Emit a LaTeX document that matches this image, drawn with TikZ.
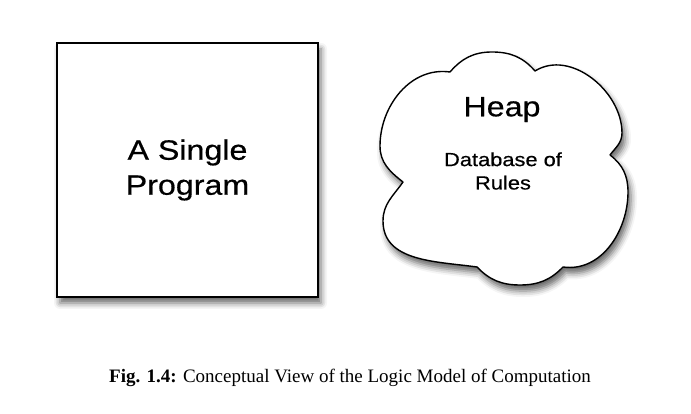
\documentclass[tikz,border=0pt]{standalone}
\usepackage{fontspec}
\setmainfont{Liberation Serif}
\newfontfamily\labelfont[FakeStretch=1.15, FakeBold=0.5]{Liberation Sans}
\usetikzlibrary{positioning, shadows.blur}

\begin{document}
\begin{tikzpicture}[x=1pt, y=1pt, line width=1.4pt,
  softshadow/.style={blur shadow={shadow xshift=3pt, shadow yshift=-6pt, shadow blur radius=6pt, shadow opacity=60}},
  progbox/.style={draw, fill=white, softshadow, minimum width=261pt, minimum height=254pt, inner sep=0pt, align=center, font=\labelfont\fontsize{28}{35}\selectfont},
  cloudline/.style={draw, fill=white, line join=round, softshadow},
  heaptext/.style={font=\labelfont\fontsize{28}{34}\selectfont},
  dbtext/.style={align=center, inner sep=0pt, font=\labelfont\fontsize{19}{23.4}\selectfont}]
  \useasboundingbox (0,0) rectangle (691,414);

  % the program box
  \node[progbox] (prog) at (187.5,244) {A Single\\Program};

  % heap cloud, cusps between the lobes
  \coordinate (c1) at (403,232);
  \coordinate (c2) at (450,342);
  \coordinate (c3) at (535,343);
  \coordinate (c4) at (610,259);
  \coordinate (c5) at (563,147);
  \coordinate (c6) at (477,147);
  \path[cloudline] (c1) to[out=142,in=-90] (380,268) to[out=90,in=172] (c2)
    to[out=49,in=180] (492,362) to[out=0,in=131] (c3)
    to[out=32,in=90] (622,281) to[out=-90,in=53] (c4)
    to[out=-37,in=90] (628,222) to[out=-90,in=-8] (c5)
    to[out=-134,in=0] (520,129) to[out=180,in=-46] (c6)
    to[out=172,in=-90] (383,193) to[out=90,in=235] cycle;

  \node[heaptext, anchor=base] (heap) at (502,297.7) {Heap};
  \node[dbtext] (rules) at (503,243) {Database of\\Rules};

  % caption
  \node[anchor=base, font=\fontsize{19}{23}\selectfont] (caption) at (350,31.7)
    {\textbf{Fig. 1.4:} Conceptual View of the Logic Model of Computation};
\end{tikzpicture}
\end{document}
